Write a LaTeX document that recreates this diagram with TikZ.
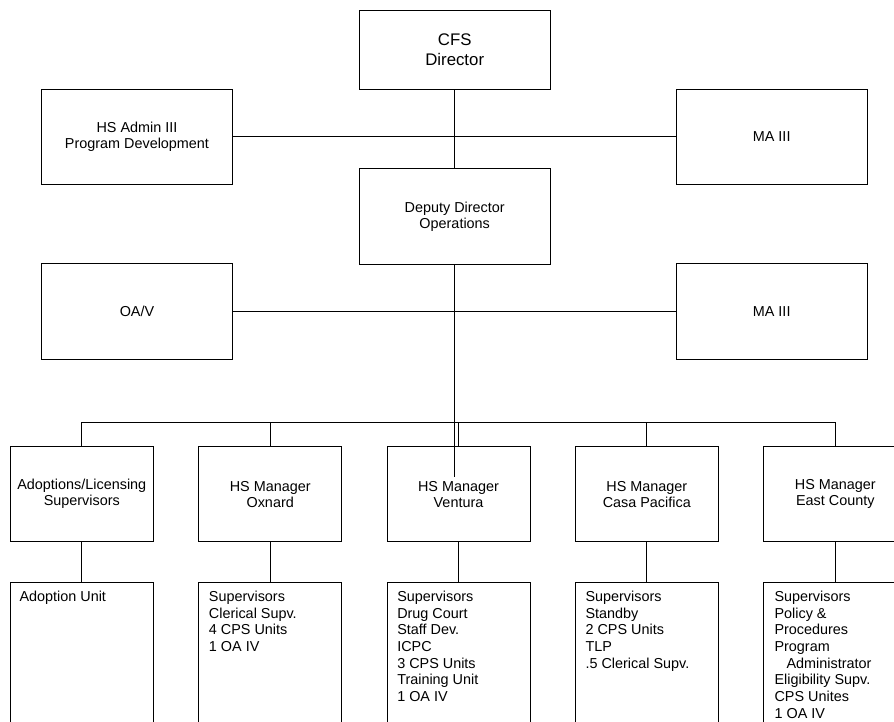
\documentclass[tikz,border=0pt]{standalone}
\usepackage{fontspec}
\setmainfont{Liberation Sans}
\begin{document}
\begin{tikzpicture}[x=1pt,y=-1pt,
  box/.style={draw=black,line width=0.9pt,rectangle,inner sep=0pt,minimum width=190.7pt,minimum height=95.3pt,align=center,font={\fontsize{14.4}{16}\selectfont}},
  topbox/.style={box,minimum height=79pt,font={\fontsize{16.8}{20.3}\selectfont}},
  mbox/.style={box,minimum width=143pt,minimum height=95pt},
  unitbox/.style={draw=black,line width=0.9pt,rectangle,inner sep=0pt,minimum width=143pt,minimum height=240pt,anchor=north},
  unittext/.style={anchor=north west,inner sep=0pt,align=left,font={\fontsize{14.4}{16.7}\selectfont}},
  link/.style={draw=black,line width=0.9pt}]
\useasboundingbox (0,0) rectangle (894,721);
\clip (0,0) rectangle (894,721);
\fill[white] (0,0) rectangle (894,721);
% upper part
\node[topbox] (cfs) at (454.7,49.5) {CFS\\Director};
\node[box] (adm) at (137,136.7) {HS Admin III\\Program Development};
\node[box] (ma1) at (771.7,136.7) {MA III};
\node[box] (dep) at (454.7,216.3) {Deputy Director\\Operations};
\node[box] (oav) at (137,311.5) {OA/V};
\node[box] (ma2) at (771.7,311.5) {MA III};
\draw[link] (cfs.south) -- (dep.north);
\draw[link] (adm.east) -- (ma1.west);
\draw[link] (oav.east) -- (ma2.west);
\coordinate (dend) at (454.7,477.3);
\draw[link] (dep.south) -- (dend);
% managers
\node[mbox] (m1) at (81.8,494.2) {Adoptions/Licensing\\Supervisors};
\node[mbox] (m2) at (270.2,494.2) {HS Manager\\Oxnard};
\node[mbox] (m3) at (458.5,494.2) {HS Manager\\Ventura};
\node[mbox] (m4) at (646.8,494.2) {HS Manager\\Casa Pacifica};
\node[mbox] (m5) at (835.3,494.2) {HS Manager\\East County};
\coordinate (bus) at (458.5,422.7);
\draw[link] (m1.north) |- (bus) -| (m5.north);
\draw[link] (m2.north) -- (m2.north |- bus);
\draw[link] (m3.north) -- (m3.north |- bus);
\draw[link] (m4.north) -- (m4.north |- bus);
% units
\node[unitbox] (u1) at (81.8,581.7) {};
\node[unitbox] (u2) at (270.2,581.7) {};
\node[unitbox] (u3) at (458.5,581.7) {};
\node[unitbox] (u4) at (646.8,581.7) {};
\node[unitbox] (u5) at (835.3,581.7) {};
\foreach \i in {1,...,5} {\draw[link] (m\i.south) -- (u\i.north);}
\node[unittext] (t1) at ([shift={(9.5,9)}]u1.north west) {Adoption Unit};
\node[unittext] (t2) at ([shift={(10.5,9)}]u2.north west) {Supervisors\\Clerical Supv.\\4 CPS Units\\1 OA IV};
\node[unittext] (t3) at ([shift={(10.5,9)}]u3.north west) {Supervisors\\Drug Court\\Staff Dev.\\ICPC\\3 CPS Units\\Training Unit\\1 OA IV};
\node[unittext] (t4) at ([shift={(10.5,9)}]u4.north west) {Supervisors\\Standby\\2 CPS Units\\TLP\\.5 Clerical Supv.};
\node[unittext] (t5) at ([shift={(11,9)}]u5.north west) {Supervisors\\Policy \&\\Procedures\\Program\\\hspace*{12pt}Administrator\\Eligibility Supv.\\CPS Unites\\1 OA IV};
\end{tikzpicture}
\end{document}
